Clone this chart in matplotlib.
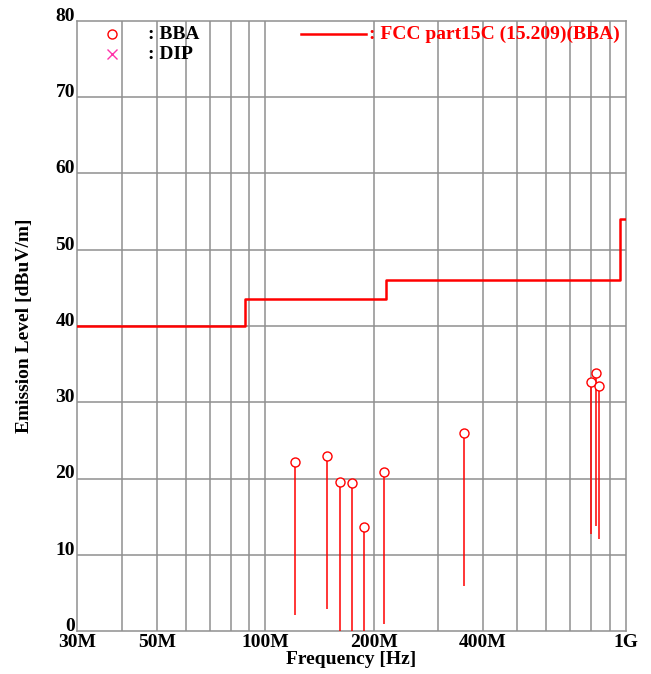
import matplotlib
matplotlib.use("Agg")
import matplotlib.pyplot as plt
from matplotlib.ticker import FixedLocator, NullFormatter, NullLocator

# ---- data ----
freq_mhz = [120.8, 147.9, 160.6, 174.0, 187.7, 213.8, 354.8, 798.7, 826.0, 842.0]
peak_dbuv = [22.1, 22.9, 19.5, 19.4, 13.6, 20.9, 26.0, 32.7, 33.8, 32.1]
base_dbuv = [2.1, 2.9, 0.0, 0.0, 0.0, 0.9, 5.9, 12.7, 13.8, 12.1]

limit_freq_mhz = [30, 88, 88, 216, 216, 960, 960, 1000]
limit_dbuv = [40, 40, 43.5, 43.5, 46, 46, 54, 54]

xtick_vals = [30, 50, 100, 200, 400, 1000]
xtick_labels = ["30M", "50M", "100M", "200M", "400M", "1G"]
grid_x = [40, 50, 60, 70, 80, 90, 100, 200, 300, 400, 500, 600, 700, 800, 900]
ytick_vals = [0, 10, 20, 30, 40, 50, 60, 70, 80]

plt.rcParams['font.family'] = ['Liberation Serif', 'DejaVu Serif']
plt.rcParams['font.weight'] = 'bold'

fig = plt.figure(figsize=(6.51, 6.74), dpi=100)
ax = fig.add_axes([77/651, 1-631/674, (626-77)/651, (631-21)/674])
ax.set_xscale('log')
ax.set_xlim(30, 1000)
ax.set_ylim(0, 80)

for gx in grid_x:
    ax.axvline(gx, color='#909090', lw=1.1, zorder=1)
for gy in ytick_vals[1:-1]:
    ax.axhline(gy, color='#909090', lw=1.1, zorder=1)

ax.plot(limit_freq_mhz, limit_dbuv, color='red', lw=1.8, zorder=3)

ax.vlines(freq_mhz, base_dbuv, peak_dbuv, color='red', lw=1.1, zorder=3)
ax.plot(freq_mhz, peak_dbuv, 'o', mfc='white', mec='red', ms=6.5, mew=1.0, zorder=4)

ax.xaxis.set_major_locator(FixedLocator(xtick_vals))
ax.set_xticklabels(xtick_labels)
ax.xaxis.set_minor_locator(NullLocator())
ax.xaxis.set_minor_formatter(NullFormatter())
ax.set_yticks(ytick_vals)
ax.tick_params(axis='x', length=0, labelsize=14, pad=2.5)
ax.tick_params(axis='y', length=0, labelsize=14, pad=1.5)
for lab in ax.get_xticklabels() + ax.get_yticklabels():
    lab.set_fontweight('bold')
for lab in ax.get_yticklabels():
    lab.set_va('baseline')
for s in ax.spines.values():
    s.set_color('#909090')
    s.set_linewidth(1.1)

ax.set_xlabel('Frequency [Hz]', fontsize=14, fontweight='bold', labelpad=0)
ax.set_ylabel('Emission Level [dBuV/m]', fontsize=14, fontweight='bold', labelpad=16)

# legend (manual, in figure pixel coordinates)
def fx(px):
    return px / 651
def fy(py):
    return 1 - py / 674

fig.lines.append(plt.Line2D([fx(111.7)], [fy(34.3)], marker='o', mfc='white', mec='red',
                            ms=6.5, mew=1.0, transform=fig.transFigure, lw=0))
fig.lines.append(plt.Line2D([fx(111.7)], [fy(54.3)], marker='x', color='#ff33aa',
                            ms=7, mew=1.0, transform=fig.transFigure, lw=0))
fig.text(fx(148), fy(34.3), ': BBA', fontsize=14, fontweight='bold', va='center', ha='left')
fig.text(fx(148), fy(54.3), ': DIP', fontsize=14, fontweight='bold', va='center', ha='left')
fig.lines.append(plt.Line2D([fx(301), fx(366)], [fy(34.3), fy(34.3)], color='red', lw=1.8,
                            transform=fig.transFigure))
fig.text(fx(369), fy(34.3), ': FCC part15C (15.209)(BBA)', fontsize=14, fontweight='bold',
         va='center', ha='left', color='red')

fig.savefig('out.png', dpi=100)
